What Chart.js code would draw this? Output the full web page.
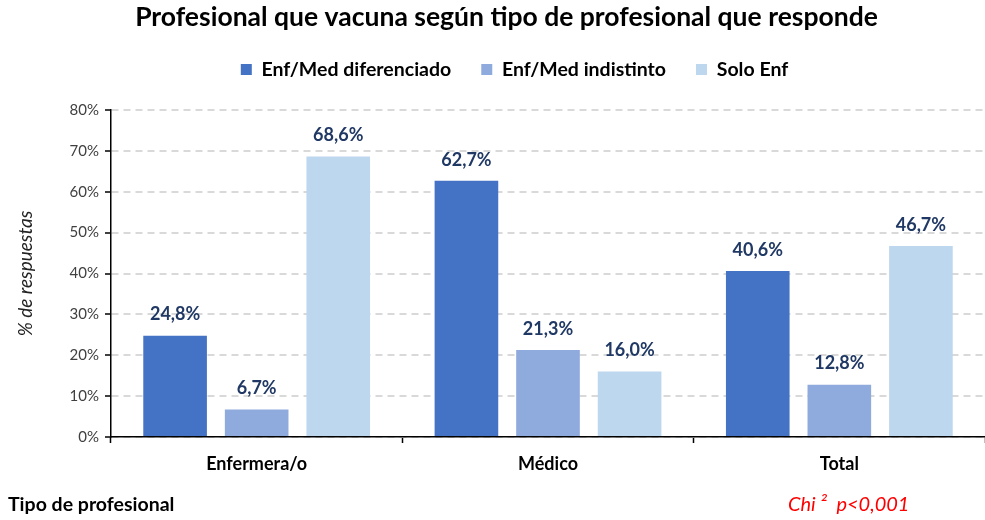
<!DOCTYPE html>
<html>
<head>
<meta charset="utf-8">
<script src="https://cdn.jsdelivr.net/npm/chart.js@4/dist/chart.umd.min.js"></script>
<style>
  html, body { margin: 0; padding: 0; background: #fff; }
  #wrap { width: 985px; height: 520px; position: relative; }
</style>
</head>
<body>
<div id="wrap"><canvas id="chart"></canvas></div>
<script>
/* --------------------- DATA -------------------- */
const categories = ["Enfermera/o", "Médico", "Total"];
const seriesNames = ["Enf/Med diferenciado", "Enf/Med indistinto", "Solo Enf"];
const diferenciado = [24.8, 62.7, 40.6];
const indistinto = [6.7, 21.3, 12.8];
const soloEnf = [68.6, 16.0, 46.7];
const yTicks = [0, 10, 20, 30, 40, 50, 60, 70, 80];

const colors = ["#4472C4", "#8FAADC", "#BDD7EE"];
const FONT = "Lato, 'Open Sans', sans-serif";

const TITLE_SIZE = 26.5;
const TITLE_PAD_BOTTOM = 2;
const TOP_PAD = 2;
const PLOT_TOP = 110;

function fmtPct(v) {
  return v.toFixed(1).replace(".", ",") + "%";
}

/* legend height so the plot starts where the original does,
   then nudge title/legend a bit right like in the original */
const headerLayout = {
  id: "headerLayout",
  beforeInit(chart) {
    const fit = chart.legend.fit;
    chart.legend.fit = function () {
      fit.call(this);
      this.height = PLOT_TOP - (TOP_PAD + TITLE_SIZE * 1.2 + TITLE_PAD_BOTTOM);
    };
  },
  afterLayout(chart) {
    const t = chart.titleBlock;
    t.left += 14; t.right += 14;
    const l = chart.legend;
    l.left += 22; l.right += 22;
    l.top -= 6; l.bottom -= 6;
  }
};

/* value labels above the bars */
const valueLabels = {
  id: "valueLabels",
  afterDatasetsDraw(chart) {
    const ctx = chart.ctx;
    ctx.save();
    ctx.font = "bold 18px " + FONT;
    ctx.fillStyle = "#203864";
    ctx.textAlign = "center";
    ctx.textBaseline = "middle";
    chart.data.datasets.forEach((ds, i) => {
      chart.getDatasetMeta(i).data.forEach((bar, j) => {
        ctx.fillText(fmtPct(ds.data[j]), bar.x, bar.y - 21);
      });
    });
    ctx.restore();
  }
};

/* bottom notes */
const bottomNotes = {
  id: "bottomNotes",
  afterDraw(chart) {
    const ctx = chart.ctx;
    ctx.save();
    ctx.textBaseline = "middle";
    ctx.textAlign = "left";
    ctx.font = "bold 19.5px " + FONT;
    ctx.fillStyle = "#000";
    ctx.fillText("Tipo de profesional", 8, 505);
    ctx.font = "italic 20px " + FONT;
    ctx.fillStyle = "#FF0000";
    ctx.fillText("Chi ²  p<0,001", 788, 505);
    ctx.restore();
  }
};

const datasets = [diferenciado, indistinto, soloEnf].map((d, i) => ({
  label: seriesNames[i],
  data: d,
  backgroundColor: colors[i],
  borderWidth: 0,
  categoryPercentage: 0.84,
  barPercentage: 0.78
}));

new Chart(document.getElementById("chart"), {
  type: "bar",
  data: { labels: categories, datasets },
  plugins: [headerLayout, valueLabels, bottomNotes],
  options: {
    responsive: true,
    maintainAspectRatio: false,
    animation: false,
    layout: { padding: { top: TOP_PAD, right: 0, left: 0, bottom: 0 } },
    plugins: {
      title: {
        display: true,
        text: "Profesional que vacuna según tipo de profesional que responde",
        color: "#000",
        font: { family: FONT, size: TITLE_SIZE, weight: "bold" },
        padding: { top: 0, bottom: TITLE_PAD_BOTTOM }
      },
      legend: {
        position: "top",
        labels: {
          color: "#000",
          font: { family: FONT, size: 19.5, weight: "bold" },
          boxWidth: 11,
          boxHeight: 11,
          padding: 30
        }
      },
      tooltip: { enabled: false }
    },
    scales: {
      x: {
        afterFit: (s) => { s.height = 83; },
        grid: {
          offset: true,
          drawOnChartArea: false,
          drawTicks: true,
          tickLength: 6,
          tickColor: "#000",
          tickWidth: 1.5
        },
        border: { color: "#000", width: 1.5 },
        ticks: {
          color: "#000",
          font: { family: FONT, size: 18, weight: "bold" },
          padding: 10
        }
      },
      y: {
        min: 0,
        max: 80,
        afterFit: (s) => { s.width = 111; },
        afterBuildTicks: (s) => { s.ticks = yTicks.map((v) => ({ value: v })); },
        title: {
          display: true,
          text: "% de respuestas",
          color: "#222",
          font: { family: FONT, size: 19, style: "italic" },
          padding: { top: 14, bottom: 0 }
        },
        grid: {
          color: "#D9D9D9",
          lineWidth: 2,
          tickColor: "#000",
          tickBorderDash: [],
          tickLength: 6,
          tickWidth: 1.5
        },
        border: { color: "#000", width: 1.5, dash: [7, 5] },
        ticks: {
          color: "#404040",
          font: { family: FONT, size: 15 },
          padding: 6,
          callback: (v) => v + "%"
        }
      }
    }
  }
});
</script>
</body>
</html>
